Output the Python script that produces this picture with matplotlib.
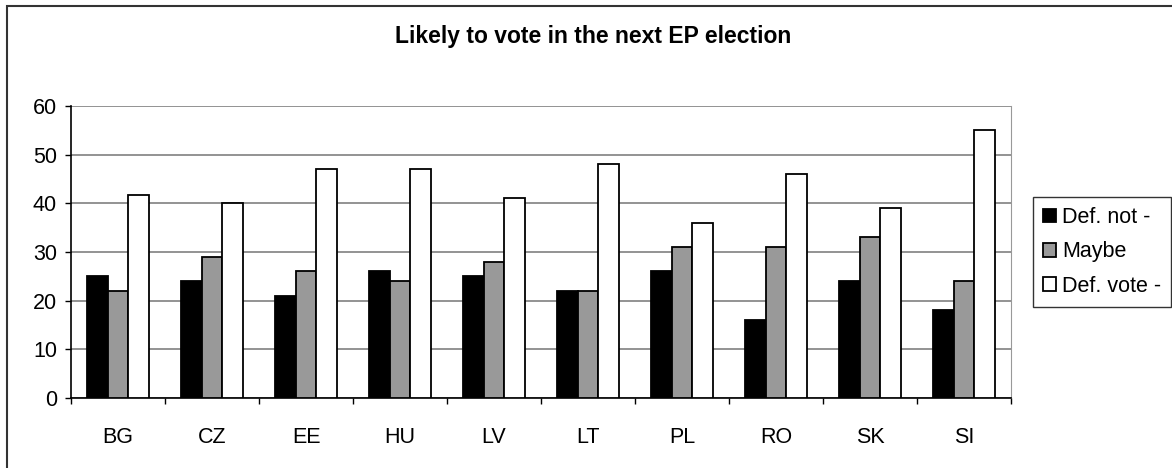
import numpy as np
import matplotlib
matplotlib.use("Agg")
import matplotlib.pyplot as plt
from matplotlib.patches import Rectangle

countries = ["BG", "CZ", "EE", "HU", "LV", "LT", "PL", "RO", "SK", "SI"]
def_not = [25, 24, 21, 26, 25, 22, 26, 16, 24, 18]
maybe = [22, 29, 26, 24, 28, 22, 31, 31, 33, 24]
def_vote = [41.7, 40, 47, 47, 41, 48, 36, 46, 39, 55]
series_names = ["Def. not -", "Maybe", "Def. vote -"]

plt.rcParams['font.family'] = ['Liberation Sans', 'DejaVu Sans']

fig = plt.figure(figsize=(11.72, 4.68), dpi=100)
ax = fig.add_axes([71 / 1172, 1 - 398 / 468, 940 / 1172, 292 / 468])

x = np.arange(len(countries))
w = 0.223
colors = ['black', '#999999', 'white']
for i, (vals, c, name) in enumerate(zip([def_not, maybe, def_vote], colors, series_names)):
    ax.bar(x + (i - 1) * w, vals, w, color=c, edgecolor='black', linewidth=1.3,
           label=name, zorder=3)

ax.set_xlim(-0.5, len(countries) - 0.5)
ax.set_ylim(0, 60)
ax.set_yticks(np.arange(0, 61, 10))
ax.yaxis.grid(True, color='#808080', linewidth=1.2, zorder=0)

ax.set_xticks(np.arange(-0.5, len(countries), 1))
ax.set_xticklabels([])
ax.set_xticks(x, minor=True)
ax.set_xticklabels(countries, minor=True)
ax.tick_params(axis='x', which='major', direction='out', length=4, width=1)
ax.tick_params(axis='x', which='minor', length=0, pad=21, labelsize=15.5)
ax.tick_params(axis='y', direction='out', length=4, width=1, pad=6, labelsize=15.5)

ax.spines['top'].set_visible(False)
ax.spines['right'].set_color('#999999')
ax.spines['left'].set_linewidth(1.2)
ax.spines['bottom'].set_linewidth(1.2)

fig.text(593 / 1172, 1 - 36 / 468, "Likely to vote in the next EP election",
         ha='center', va='center', fontsize=16.5, fontweight='bold')

leg = fig.legend(loc='center left', bbox_to_anchor=(1033 / 1172, 1 - 252 / 468),
                 fontsize=15.5, frameon=True, fancybox=False, edgecolor='black',
                 handlelength=0.6, handleheight=0.6, handletextpad=0.3,
                 labelspacing=0.62, borderpad=0.45, borderaxespad=0)
leg.get_frame().set_linewidth(1)

# chart area border (only left and top visible in the crop)
fig.patches.append(Rectangle((7 / 1172, -0.2), 1.2, 1.2 - 6 / 468,
                             transform=fig.transFigure, fill=False,
                             edgecolor='#333333', linewidth=1.5))

fig.savefig("out.png", dpi=100)
